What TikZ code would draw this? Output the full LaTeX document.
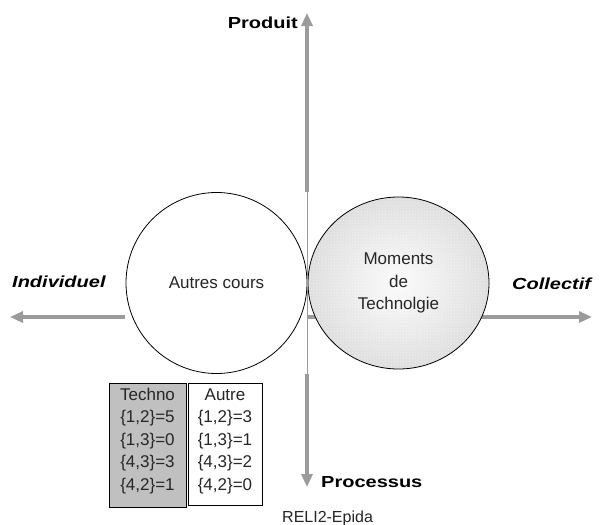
\documentclass[tikz,border=0pt]{standalone}
\usepackage{fontspec}
\setmainfont{Liberation Sans}
\newfontfamily\axisfont[FakeStretch=1.25]{Liberation Sans}
\usetikzlibrary{arrows.meta,shapes.geometric,patterns}
\definecolor{axisgray}{RGB}{155,155,155}
\definecolor{cellgray}{RGB}{192,192,192}
\tikzset{
  axisarrow/.style={draw=axisgray, line width=4pt, -{Triangle[length=13pt,width=11pt]}},
  thinaxis/.style={draw=axisgray, line width=1pt},
  axislabel/.style={font=\axisfont\bfseries\fontsize{16}{19}\selectfont, inner sep=0pt},
  bodytext/.style={font=\fontsize{17}{22.7}\selectfont, align=center, text=black!85},
  celltext/.style={font=\fontsize{17}{22.5}\selectfont, align=center, inner sep=0pt, text=black!85},
  cellbox/.style={draw=black, line width=0.8pt, inner sep=0pt},
}
\begin{document}
\begin{tikzpicture}[x=1pt,y=-1pt]
\useasboundingbox (0,0) rectangle (600,525);
% axis coordinates
\coordinate (ptop) at (307,13);
\coordinate (vt) at (307,192);
\coordinate (vb) at (307,374);
\coordinate (pbot) at (307,487);
\coordinate (hl) at (125,317);
\coordinate (hleft) at (10,317);
\coordinate (hc) at (307,317);
\coordinate (hright) at (592,317);
% right axis (partly hidden by the shaded circle)
\draw[axisarrow] (hc) -- (hright);
% circles
\node[circle, draw=black, line width=0.8pt, fill=white, minimum size=181pt, inner sep=0pt, bodytext] (autres) at (216.5,283) {Autres cours};
\node[ellipse, inner color=gray!3, outer color=gray!26, minimum width=181pt, minimum height=172pt, inner sep=0pt] (techno) at (398.5,283) {};
\path[pattern=crosshatch dots, pattern color=white, opacity=0.5] (techno.center) ellipse [x radius=90.5, y radius=86];
\draw[black, line width=0.8pt] (techno.center) ellipse [x radius=90.5, y radius=86];
\node[bodytext, inner sep=0pt] (technotext) at (techno.center) {Moments\\de\\Technolgie};
% axes
\draw[axisarrow] (vt) -- (ptop);
\draw[thinaxis] (vt) -- (vb);
\draw[axisarrow] (vb) -- (pbot);
\draw[axisarrow] (hl) -- (hleft);
% axis labels
\node[axislabel, anchor=base east] (produit) at (298,28) {Produit};
\node[axislabel, anchor=base west] (indiv) at (12,287) {\itshape Individuel};
\node[axislabel, anchor=base west] (coll) at (512,289) {\itshape Collectif};
\node[axislabel, anchor=base west] (proc) at (321,487) {Processus};
\node[font=\fontsize{16}{19}\selectfont, inner sep=0pt, anchor=base west, text=black!85] (reli) at (282,522) {RELI2-Epida};
% table
\node[cellbox, fill=cellgray, minimum width=77pt, minimum height=124pt] (boxt) at (147.5,445) {};
\node[cellbox, fill=white, minimum width=74pt, minimum height=122pt] (boxa) at (225,444) {};
\node[celltext] (colt) at (147.5,441) {Techno\\\{1,2\}=5\\\{1,3\}=0\\\{4,3\}=3\\\{4,2\}=1};
\node[celltext] (cola) at (225,441) {Autre\\\{1,2\}=3\\\{1,3\}=1\\\{4,3\}=2\\\{4,2\}=0};
\end{tikzpicture}
\end{document}
